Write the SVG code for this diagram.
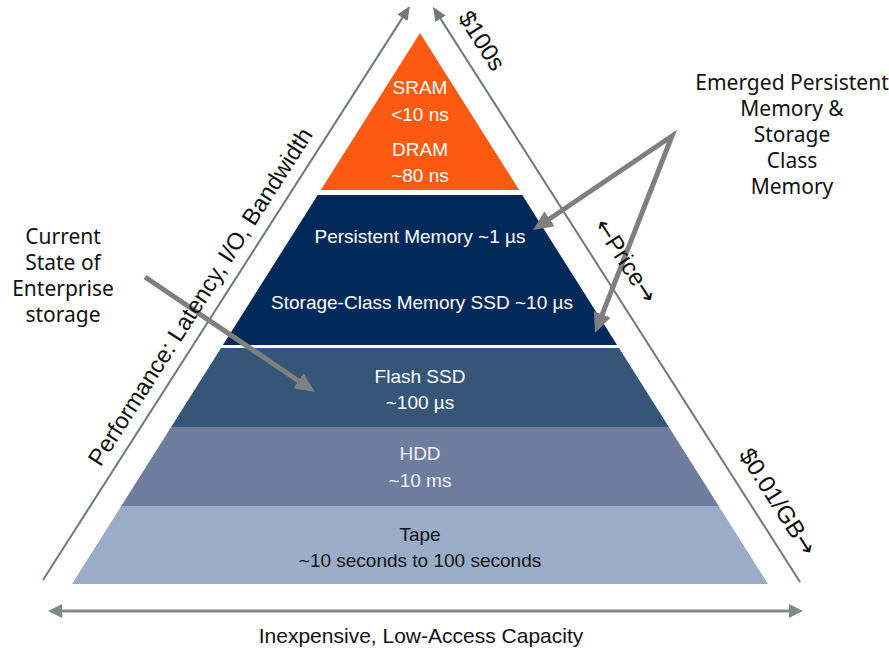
<svg xmlns="http://www.w3.org/2000/svg" width="889" height="651" viewBox="0 0 889 651">
  <style>
    .tier { font-family: "Liberation Sans", Arial, sans-serif; font-size: 19px; text-anchor: middle; fill: #ffffff; }
    .tier-dark { fill: #141414; }
    .tier-light { fill: #eef0f5; }
    .axis-label { font-family: "Liberation Sans", Arial, sans-serif; font-size: 24px; fill: #111111; text-anchor: middle; }
    .arrow-glyph { font-family: "DejaVu Sans", sans-serif; }
    .note { font-family: "Noto Sans", "Open Sans", sans-serif; font-size: 21px; fill: #111111; text-anchor: middle; }
    .axis { fill: none; stroke: #6e7a77; stroke-width: 2; }
    .axis-h { fill: none; stroke: #7f8a88; stroke-width: 3; }
    .callout { fill: none; stroke: #7f7f7f; stroke-width: 5; stroke-linejoin: miter; stroke-miterlimit: 10; }
  </style>
  <defs>
    <marker id="axisHead" markerUnits="userSpaceOnUse" markerWidth="14" markerHeight="12" refX="2" refY="6" orient="auto-start-reverse">
      <path d="M0,0 L14,6 L0,12 z" fill="#6e7a77"/>
    </marker>
    <marker id="axisHeadH" markerUnits="userSpaceOnUse" markerWidth="14" markerHeight="14" refX="2" refY="7" orient="auto-start-reverse">
      <path d="M0,0 L14,7 L0,14 z" fill="#7f8a88"/>
    </marker>
    <marker id="calloutHead" markerUnits="userSpaceOnUse" markerWidth="20" markerHeight="18" refX="3" refY="9" orient="auto-start-reverse">
      <path d="M0,0 L20,9 L0,18 z" fill="#7f7f7f"/>
    </marker>
  </defs>

  <rect width="889" height="651" fill="#ffffff"/>

  <!-- pyramid tiers, top to bottom -->
  <g id="tier-sram-dram">
    <polygon points="420,33 519.2,190 320.8,190" fill="#fb5a10"/>
    <text class="tier" x="420" y="94">SRAM</text>
    <text class="tier" x="420" y="121">&lt;10 ns</text>
    <text class="tier" x="420" y="156">DRAM</text>
    <text class="tier" x="420" y="182">~80 ns</text>
  </g>
  <g id="tier-persistent">
    <polygon points="317.7,195 522.3,195 617.1,345 222.9,345" fill="#012a5a"/>
    <text class="tier" x="420" y="243">Persistent Memory ~1 µs</text>
    <text class="tier" x="422" y="309">Storage-Class Memory SSD ~10 µs</text>
  </g>
  <g id="tier-flash">
    <polygon points="221,348 619,348 668.9,427 171.1,427" fill="#355678"/>
    <text class="tier" x="420" y="383">Flash SSD</text>
    <text class="tier" x="420" y="409">~100 µs</text>
  </g>
  <g id="tier-hdd">
    <polygon points="171.1,427 668.9,427 718.7,506 121.3,506" fill="#6e7d9e"/>
    <text class="tier tier-light" x="420" y="460">HDD</text>
    <text class="tier tier-light" x="420" y="487">~10 ms</text>
  </g>
  <g id="tier-tape">
    <polygon points="121.3,506 718.7,506 768,584 72,584" fill="#9aacc8"/>
    <text class="tier tier-dark" x="420" y="541">Tape</text>
    <text class="tier tier-dark" x="420" y="567">~10 seconds to 100 seconds</text>
  </g>

  <!-- axes and callout arrows -->
  <g id="connectors">
    <path class="axis" d="M43,580 L403.5,16.1" marker-end="url(#axisHead)"/>
    <path class="axis" d="M800,582 L439.5,17.1" marker-end="url(#axisHead)"/>
    <path class="axis-h" d="M60,611 L791,611" marker-start="url(#axisHeadH)" marker-end="url(#axisHeadH)"/>
    <path class="callout" d="M145,277 L300.9,382.5" marker-end="url(#calloutHead)"/>
    <path class="callout" d="M547.1,220.5 L672,136 L601.2,317.2" marker-start="url(#calloutHead)" marker-end="url(#calloutHead)"/>
  </g>

  <!-- axis labels -->
  <g id="label-performance">
    <text class="axis-label" style="font-size:23.5px" transform="translate(207,301) rotate(-57.4)">Performance: Latency, I/O, Bandwidth</text>
  </g>
  <g id="label-price-high">
    <text class="axis-label" transform="translate(475,45) rotate(57.4)">$100s</text>
  </g>
  <g id="label-price">
    <text class="axis-label" transform="translate(619,265) rotate(57.4)"><tspan class="arrow-glyph">←</tspan>Price<tspan class="arrow-glyph">→</tspan></text>
  </g>
  <g id="label-price-low">
    <text class="axis-label" transform="translate(771,506) rotate(57.4)">$0.01/GB<tspan class="arrow-glyph">→</tspan></text>
  </g>
  <g id="label-capacity">
    <text class="axis-label" style="font-size:21px" x="421" y="643">Inexpensive, Low-Access Capacity</text>
  </g>

  <!-- side notes -->
  <g id="note-current">
    <text class="note" x="63" y="244">Current</text>
    <text class="note" x="63" y="270">State of</text>
    <text class="note" x="63" y="296">Enterprise</text>
    <text class="note" x="63" y="322">storage</text>
  </g>
  <g id="note-emerged">
    <text class="note" x="792" y="90">Emerged Persistent</text>
    <text class="note" x="792" y="116">Memory &amp;</text>
    <text class="note" x="792" y="142">Storage</text>
    <text class="note" x="792" y="168">Class</text>
    <text class="note" x="792" y="194">Memory</text>
  </g>
</svg>
